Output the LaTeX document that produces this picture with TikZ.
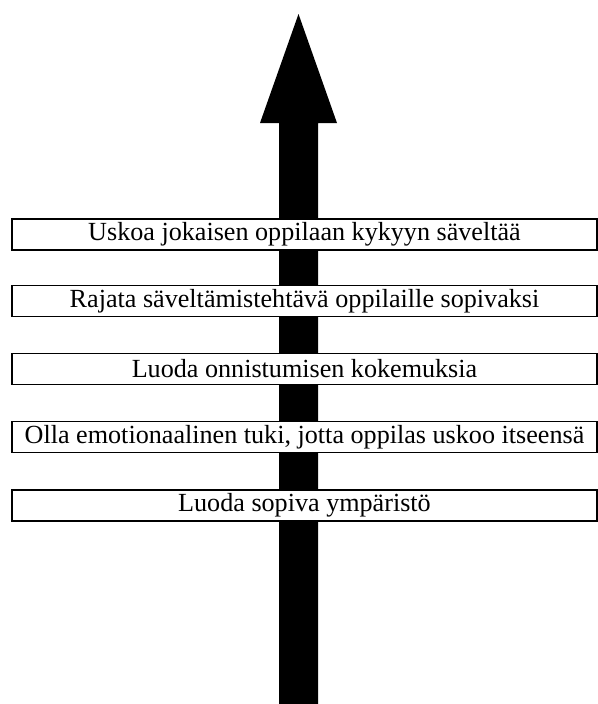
\documentclass[tikz,border=0pt]{standalone}
\usepackage{fontspec}
\setmainfont{Liberation Serif}
\tikzset{every picture/.style={line width=0.75pt}}
\tikzset{stepbox/.style={draw, fill=white, line width=0.9pt, minimum width=438.75pt, minimum height=23.25pt, inner sep=0pt, font=\fontsize{19.6}{22}\selectfont}}

\begin{document}
\begin{tikzpicture}[x=0.75pt,y=0.75pt,yscale=-1,xscale=1]
\useasboundingbox (0,0) rectangle (598,704);

%Shape: Arrow 
\fill [black] (279,704) -- (279,123) -- (260,123) -- (298.5,14) -- (337,123) -- (318,123) -- (318,704) -- cycle ;

% Text Node
\node [stepbox] (usko) at (304.5,234.5) {Uskoa jokaisen oppilaan kykyyn säveltää};
% Text Node
\node [stepbox] (rajaus) at (304.5,301) {Rajata säveltämistehtävä oppilaille sopivaksi};
% Text Node
\node [stepbox] (onnistus) at (304.5,369) {Luoda onnistumisen kokemuksia};
% Text Node
\node [stepbox] (tuki) at (304.5,437) {Olla emotionaalinen tuki, jotta oppilas uskoo itseensä};
% Text Node
\node [stepbox] (ymparisto) at (304.5,505.5) {Luoda sopiva ympäristö};

\end{tikzpicture}
\end{document}
